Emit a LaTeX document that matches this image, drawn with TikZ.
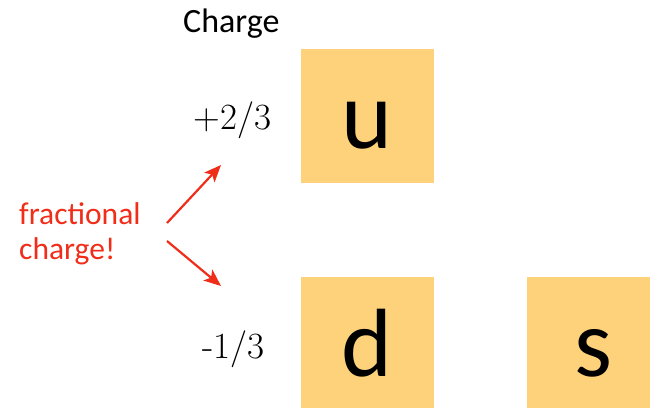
\documentclass[tikz,border=0pt]{standalone}
\usepackage{fontspec}
\newfontfamily\calib{Carlito}
\usetikzlibrary{arrows.meta}
\definecolor{boxfill}{RGB}{253,210,122}
\definecolor{redtxt}{RGB}{240,45,25}
\begin{document}
\begin{tikzpicture}[x=1pt,y=1pt,
  quark/.style={fill=boxfill,draw=none},
  qlabel/.style={anchor=base,inner sep=0pt,font=\calib\fontsize{97}{100}\selectfont},
  numlabel/.style={anchor=base,inner sep=0pt,font=\rmfamily\fontsize{37}{40}\selectfont},
  redarrow/.style={draw=redtxt,line width=2.2pt,-{Stealth[length=17pt,width=14pt,inset=4pt]}}]
\useasboundingbox (0,0) rectangle (650,408);
% boxes
\fill[quark] (301,225) rectangle (434,359);
\fill[quark] (301,0) rectangle (434,131);
\fill[quark] (527,0) rectangle (650,131);
\node[qlabel] (u) at (367,260) {u};
\node[qlabel] (d) at (366.5,32) {d};
\node[qlabel] (s) at (593.5,32) {s};
% texts
\node[anchor=base west,inner sep=0pt,font=\calib\fontsize{34}{36}\selectfont] (charge) at (183,375) {Charge};
\node[numlabel] (p23) at (232.5,279) {+2/3};
\node[numlabel] (m13) at (233.5,50) {-1/3};
\node[anchor=base west,inner sep=0pt,text=redtxt,font=\calib\fontsize{31.5}{35}\selectfont] (frac) at (19,184) {fractional};
\node[anchor=base west,inner sep=0pt,text=redtxt,font=\calib\fontsize{31.5}{35}\selectfont] (frac2) at (19,149) {charge!};
% arrows
\coordinate (aus) at (167,185);
\coordinate (aue) at (221,243);
\coordinate (ads) at (167,167);
\coordinate (ade) at (221,122);
\draw[redarrow] (aus) -- (aue);
\draw[redarrow] (ads) -- (ade);
\end{tikzpicture}
\end{document}
